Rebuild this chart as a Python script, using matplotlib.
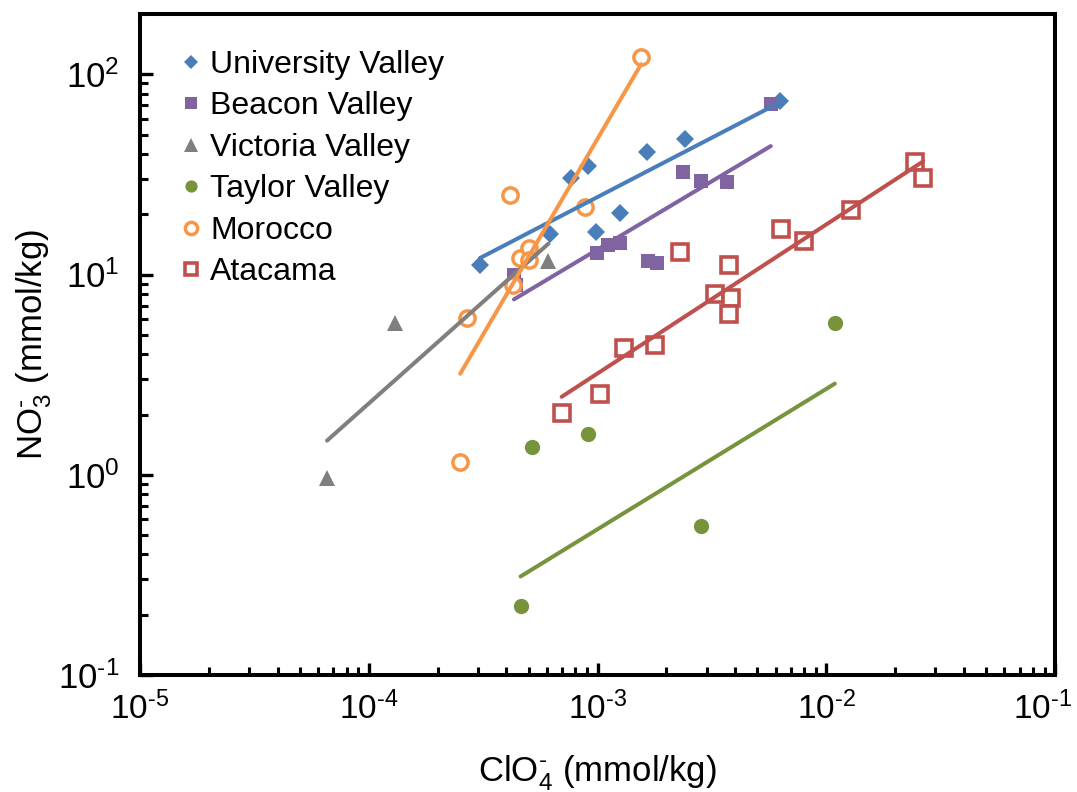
import numpy as np
import matplotlib
matplotlib.use("Agg")
import matplotlib.pyplot as plt
import matplotlib.transforms as mtransforms
from matplotlib.ticker import LogLocator, FixedLocator, NullFormatter

plt.rcParams['font.family'] = ['Liberation Sans', 'DejaVu Sans']
plt.rcParams['mathtext.fontset'] = 'custom'
plt.rcParams['mathtext.rm'] = 'Liberation Sans'
plt.rcParams['mathtext.it'] = 'Liberation Sans:italic'
plt.rcParams['mathtext.bf'] = 'Liberation Sans:bold'

# ---------------- data (ClO4- , NO3-) in mmol/kg ----------------
series_names = ['University Valley', 'Beacon Valley', 'Victoria Valley',
                'Taylor Valley', 'Morocco', 'Atacama']

univ_x = [3.06e-4, 6.19e-4, 7.64e-4, 9.06e-4, 9.82e-4, 1.25e-3, 1.64e-3, 2.42e-3, 6.28e-3]
univ_y = [11.2, 16.0, 30.5, 34.7, 16.4, 20.2, 40.7, 47.3, 73.3]

beacon_x = [4.31e-4, 4.40e-4, 9.90e-4, 1.11e-3, 1.25e-3, 1.67e-3, 1.82e-3, 2.36e-3, 2.83e-3, 3.67e-3, 5.72e-3]
beacon_y = [9.9, 8.9, 12.8, 14.0, 14.4, 11.7, 11.4, 32.5, 29.3, 28.9, 70.8]

victoria_x = [6.57e-5, 1.30e-4, 6.10e-4]
victoria_y = [0.96, 5.73, 11.7]

taylor_x = [4.61e-4, 5.15e-4, 9.12e-4, 2.83e-3, 1.09e-2]
taylor_y = [0.221, 1.37, 1.60, 0.558, 5.73]

morocco_x = [2.51e-4, 2.68e-4, 4.14e-4, 4.29e-4, 4.58e-4, 5.04e-4, 5.00e-4, 8.81e-4, 1.55e-3]
morocco_y = [1.16, 6.07, 25.1, 8.9, 12.1, 13.6, 11.8, 21.7, 121.6]

atacama_x = [6.97e-4, 1.03e-3, 1.30e-3, 1.78e-3, 2.30e-3, 3.27e-3, 3.82e-3, 3.77e-3, 3.77e-3,
             6.34e-3, 8.02e-3, 1.28e-2, 2.44e-2, 2.65e-2]
atacama_y = [2.03, 2.54, 4.30, 4.47, 12.9, 8.04, 7.64, 6.38, 11.1,
             16.8, 14.7, 21.1, 36.4, 30.2]

# power-law trendlines  y = 10**logcoef * x**exponent
trend_exponent = [0.593, 0.682, 1.016, 0.701, 1.955, 0.744]
trend_logcoef = [3.166, 3.171, 4.420, 1.831, 7.543, 2.738]

x_ticks = [1e-5, 1e-4, 1e-3, 1e-2, 1e-1]
x_ticklabels = [r'$\mathregular{10^{\text{-}5}}$', r'$\mathregular{10^{\text{-}4}}$',
                r'$\mathregular{10^{\text{-}3}}$', r'$\mathregular{10^{\text{-}2}}$',
                r'$\mathregular{10^{\text{-}1}}$']
y_ticks = [1e-1, 1e0, 1e1, 1e2]
y_ticklabels = [r'$\mathregular{10^{\text{-}1}}$', r'$\mathregular{10^{0}}$',
                r'$\mathregular{10^{1}}$', r'$\mathregular{10^{2}}$']

# ---------------- styles ----------------
colors = ['#4A7EBB', '#8064A2', '#7F7F7F', '#77933C', '#F79646', '#C0504D']
styles = [
    dict(marker='D', ms=9, mfc=colors[0], mec=colors[0], mew=0),
    dict(marker='s', ms=10, mfc=colors[1], mec=colors[1], mew=0),
    dict(marker='^', ms=12, mfc=colors[2], mec=colors[2], mew=0),
    dict(marker='o', ms=11, mfc=colors[3], mec=colors[3], mew=0),
    dict(marker='o', ms=11, mfc='white', mec=colors[4], mew=2.5),
    dict(marker='s', ms=11, mfc='white', mec=colors[5], mew=2.6),
]

xs = [univ_x, beacon_x, victoria_x, taylor_x, morocco_x, atacama_x]
ys = [univ_y, beacon_y, victoria_y, taylor_y, morocco_y, atacama_y]

fig = plt.figure(figsize=(10.77, 7.92), dpi=100)
ax = fig.add_axes([0.130, 0.1477, 0.8496, 0.8346])

handles = []
for i in range(6):
    h, = ax.plot(xs[i], ys[i], linestyle='none', zorder=3, label=series_names[i], **styles[i])
    handles.append(h)
for i in range(6):
    xx = np.geomspace(min(xs[i]), max(xs[i]), 50)
    yy = 10 ** trend_logcoef[i] * xx ** trend_exponent[i]
    ax.plot(xx, yy, color=colors[i], lw=2.9, solid_capstyle='round', zorder=4)

ax.set_xscale('log')
ax.set_yscale('log')
ax.set_xlim(1e-5, 1e-1)
ax.set_ylim(1e-1, 200)

ax.xaxis.set_major_locator(FixedLocator(x_ticks))
ax.set_xticklabels(x_ticklabels)
ax.yaxis.set_major_locator(FixedLocator(y_ticks))
ax.set_yticklabels(y_ticklabels)
ax.xaxis.set_minor_locator(LogLocator(base=10, subs=np.arange(2, 10), numticks=20))
ax.yaxis.set_minor_locator(LogLocator(base=10, subs=np.arange(2, 10), numticks=20))
ax.xaxis.set_minor_formatter(NullFormatter())
ax.yaxis.set_minor_formatter(NullFormatter())

ax.tick_params(which='major', direction='in', length=9, width=2.4, labelsize=25,
               top=False, right=False)
ax.tick_params(which='minor', direction='in', length=6, width=2.2, top=False, right=False)
ax.tick_params(axis='x', which='major', pad=12, labelsize=24)
ax.tick_params(axis='y', which='major', pad=15)

# keep the last x tick label inside the figure
last = ax.get_xticklabels()[-1]
last.set_transform(last.get_transform() +
                   mtransforms.ScaledTranslation(-12 / 100, 0, fig.dpi_scale_trans))

for sp in ax.spines.values():
    sp.set_linewidth(2.9)

ax.set_xlabel(r'ClO$\mathregular{_4^{\text{-}}}$ (mmol/kg)', fontsize=25, labelpad=20)
ax.set_ylabel(r'NO$\mathregular{_3^{\text{-}}}$ (mmol/kg)', fontsize=25, labelpad=3)

leg = ax.legend(handles=handles, loc='upper left', bbox_to_anchor=(0.031, 0.965),
                frameon=False, fontsize=23, handlelength=0.6, handletextpad=0.3,
                labelspacing=0.36, markerscale=0.8, borderaxespad=0.0)

fig.savefig('out.png', dpi=100)
